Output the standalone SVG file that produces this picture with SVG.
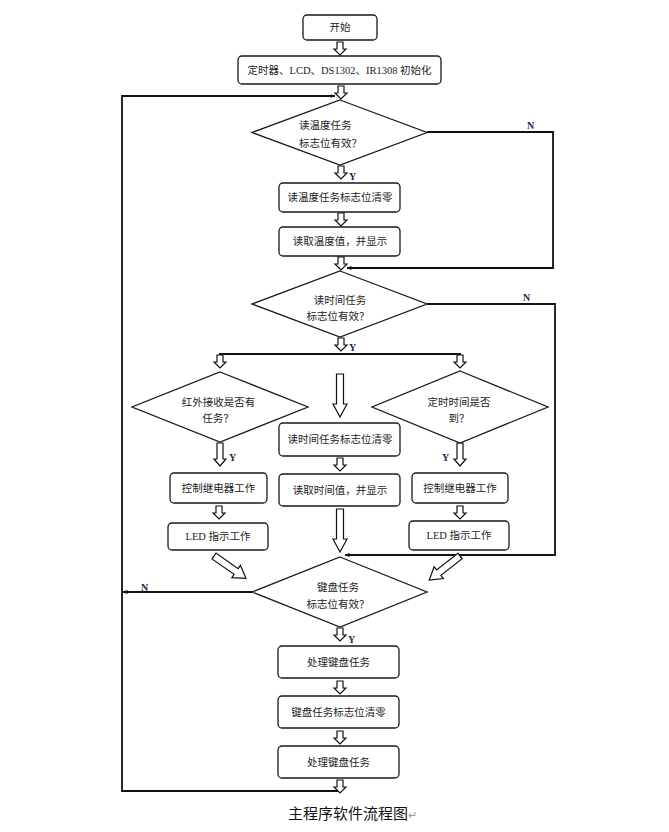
<svg xmlns="http://www.w3.org/2000/svg" width="669" height="832" viewBox="0 0 669 832">
<style>
.box{fill:#fff;stroke:#1a1a1a;stroke-width:1.3}
.dia{fill:#fff;stroke:#1a1a1a;stroke-width:1.3}
.ba{fill:#fff;stroke:#111;stroke-width:1.2;stroke-linejoin:miter}
.ln{fill:none;stroke:#111;stroke-width:1.8}
.t{font-family:"Liberation Serif","Noto Sans CJK SC",serif;font-size:10.5px;fill:#222}
.c{text-anchor:middle}
.yn{font-family:"Liberation Serif",serif;font-size:10px;font-weight:bold;fill:#1a2a4a}
.cap{font-family:"Noto Sans CJK SC",sans-serif;font-size:15px;fill:#111}
</style>
<defs>
<path id="ba" d="M-3,0 H3 V7 H6 L0,13 L-6,7 H-3 Z"/>
<path id="bal" d="M-3,0 H3 V16 H6 L0,23 L-6,16 H-3 Z"/>
<path id="bab" d="M-3.5,0 H3.5 V30 H7 L0,43 L-7,30 H-3.5 Z"/>
<path id="bad" d="M-3.5,0 H3.5 V27 H7.5 L0,39 L-7.5,27 H-3.5 Z"/>
<marker id="ah" viewBox="0 0 10 10" refX="9" refY="5" markerWidth="5" markerHeight="5" orient="auto" markerUnits="userSpaceOnUse">
<path d="M0,1 L10,5 L0,9 Z" fill="#111"/>
</marker>
</defs>

<g id="connectors">
<polyline class="ln" points="340,791 122,791 122,96 335,96" marker-end="url(#ah)"/>
<polyline class="ln" points="427,132 553,132 553,268 347,268" marker-end="url(#ah)"/>
<polyline class="ln" points="427,304 555,304 555,555 345,555" marker-end="url(#ah)"/>
<polyline class="ln" points="252,592 123,592" marker-end="url(#ah)"/>
<line class="ln" x1="219" y1="354" x2="461" y2="354"/>
<use href="#ba" class="ba" x="340" y="42"/>
<use href="#ba" class="ba" x="341" y="86"/>
<use href="#ba" class="ba" x="341" y="166"/>
<use href="#ba" class="ba" x="341" y="213"/>
<use href="#ba" class="ba" x="341" y="257"/>
<use href="#ba" class="ba" x="341" y="338"/>
<use href="#ba" class="ba" x="220" y="355"/>
<use href="#ba" class="ba" x="460" y="355"/>
<use href="#bab" class="ba" x="340" y="374"/>
<use href="#ba" class="ba" x="340" y="458"/>
<use href="#bab" class="ba" x="340" y="509"/>
<use href="#bal" class="ba" x="220" y="443"/>
<use href="#bal" class="ba" x="460" y="443"/>
<use href="#ba" class="ba" x="219" y="506"/>
<use href="#ba" class="ba" x="460" y="506"/>
<use href="#bad" class="ba" transform="translate(214,556) rotate(-55)"/>
<use href="#bad" class="ba" transform="translate(460,556) rotate(52)"/>
<use href="#ba" class="ba" x="340" y="628"/>
<use href="#ba" class="ba" x="340" y="681"/>
<use href="#ba" class="ba" x="340" y="731"/>
<use href="#ba" class="ba" x="340" y="780"/>
<text class="yn" x="527" y="129">N</text>
<text class="yn" x="349" y="180">Y</text>
<text class="yn" x="523" y="301">N</text>
<text class="yn" x="349" y="351">Y</text>
<text class="yn" x="229" y="461">Y</text>
<text class="yn" x="442" y="461">Y</text>
<text class="yn" x="141" y="591">N</text>
<text class="yn" x="348" y="643">Y</text>
</g>

<g id="start"><rect class="box" x="303" y="15" width="74" height="25" rx="4"/><text class="t c" x="340" y="31">开始</text></g>
<g id="init"><rect class="box" x="238" y="56" width="203" height="28" rx="4"/><text class="t c" x="339.5" y="74">定时器、LCD、DS1302、IR1308 初始化</text></g>
<g id="d1"><polygon class="dia" points="340,100 427,132.5 340,165 252,132.5"/><text class="t" x="299" y="129">读温度任务</text><text class="t" x="299" y="147">标志位有效？</text></g>
<g id="b1"><rect class="box" x="279" y="183" width="121" height="29" rx="4"/><text class="t c" x="340" y="201">读温度任务标志位清零</text></g>
<g id="b2"><rect class="box" x="279" y="227" width="121" height="29" rx="4"/><text class="t c" x="340" y="245">读取温度值，并显示</text></g>
<g id="d2"><polygon class="dia" points="340,271 427,304 340,337 252,304"/><text class="t c" x="340" y="304">读时间任务</text><text class="t c" x="338" y="320">标志位有效？</text></g>
<g id="d3"><polygon class="dia" points="220,372 308,407 220,442 132,407"/><text class="t c" x="218.5" y="406">红外接收是否有</text><text class="t c" x="218" y="422">任务？</text></g>
<g id="d4"><polygon class="dia" points="460,371 548,407 460,443 372,407"/><text class="t c" x="459" y="406">定时时间是否</text><text class="t c" x="459" y="422">到？</text></g>
<g id="b3"><rect class="box" x="279" y="423" width="121" height="33" rx="4"/><text class="t c" x="340" y="443">读时间任务标志位清零</text></g>
<g id="b4"><rect class="box" x="279" y="474" width="121" height="32" rx="4"/><text class="t c" x="340" y="494">读取时间值，并显示</text></g>
<g id="b5"><rect class="box" x="170" y="473" width="97" height="30" rx="4"/><text class="t c" x="218.5" y="492">控制继电器工作</text></g>
<g id="b6"><rect class="box" x="168" y="523" width="100" height="27" rx="4"/><text class="t c" x="218" y="540">LED 指示工作</text></g>
<g id="b7"><rect class="box" x="412" y="473" width="96" height="30" rx="4"/><text class="t c" x="460" y="492">控制继电器工作</text></g>
<g id="b8"><rect class="box" x="409" y="521" width="100" height="29" rx="4"/><text class="t c" x="459" y="539">LED 指示工作</text></g>
<g id="d5"><polygon class="dia" points="340,557 427,592 340,627 252,592"/><text class="t c" x="338" y="591">键盘任务</text><text class="t c" x="338" y="608">标志位有效？</text></g>
<g id="b9"><rect class="box" x="278" y="646" width="121" height="32" rx="4"/><text class="t c" x="338.5" y="666">处理键盘任务</text></g>
<g id="b10"><rect class="box" x="278" y="696" width="121" height="32" rx="4"/><text class="t c" x="338.5" y="716">键盘任务标志位清零</text></g>
<g id="b11"><rect class="box" x="278" y="746" width="121" height="32" rx="4"/><text class="t c" x="338.5" y="766">处理键盘任务</text></g>
<g id="caption"><text class="cap" x="288" y="819">主程序软件流程图<tspan fill="#999" font-size="11px">↵</tspan></text></g>
</svg>
